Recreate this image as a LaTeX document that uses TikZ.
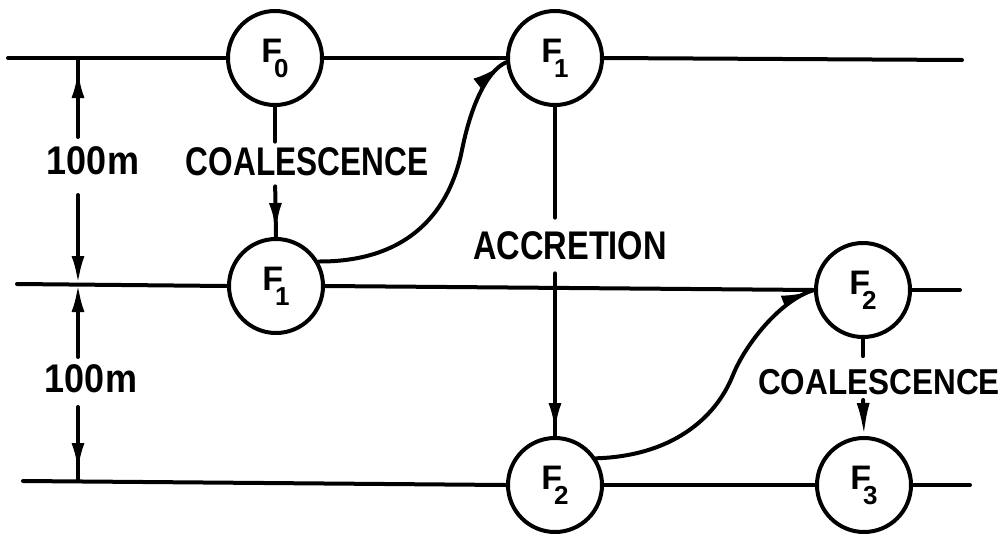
\documentclass[tikz,border=0pt]{standalone}
\usepackage{fontspec}
\usepackage{graphicx}
\setmainfont{Liberation Sans}
\usetikzlibrary{arrows.meta,decorations.markings}
\newcommand{\Fs}[1]{F\kern-8pt\raisebox{-15pt}{\fontsize{26}{26}\selectfont\bfseries #1}}
\newcommand{\lett}[2]{\scalebox{#1}[1]{#2}}
\begin{document}
\begin{tikzpicture}[x=1pt,y=-1pt,
  hline/.style={line width=4pt, line cap=round},
  fnode/.style={draw, circle, line width=4pt, minimum size=94pt, inner sep=0pt, font=\fontsize{34}{34}\selectfont\bfseries},
  lbl/.style={inner sep=0pt, font=\fontsize{40}{40}\selectfont\bfseries},
  atip/.style={postaction={decorate}, decoration={markings, mark=at position #1 with {\arrow{Latex[length=28pt,width=13pt]}}}},
  endtip/.style={-{Latex[length=28pt,width=13pt]}}
]
\useasboundingbox (0,0) rectangle (1006,533);

% circles
\node[fnode] (F0)  at (275,58)  {\Fs{0}};
\node[fnode] (F1a) at (555,58)  {\Fs{1}};
\node[fnode] (F1b) at (276,286) {\Fs{1}};
\node[fnode] (F2a) at (863,290) {\Fs{2}};
\node[fnode] (F2b) at (555,485) {\Fs{2}};
\node[fnode] (F3)  at (864,485) {\Fs{3}};

% labels
\node[lbl] (h1)  at (93,161)  {\lett{0.9}{100m}};
\node[lbl] (h2)  at (91,379)  {\lett{0.9}{100m}};
\node[lbl] (co1) at (307,162) {\lett{0.79}{COALESCENCE}};
\node[lbl] (acc) at (570,246) {\lett{0.815}{ACCRETION}};
\node[lbl, font=\fontsize{36}{36}\selectfont\bfseries] (co2) at (879,382) {\lett{0.875}{COALESCENCE}};

% line end points
\coordinate (a1) at (8,58);
\coordinate (a2) at (962,60);
\coordinate (b1) at (17,284);
\coordinate (b2) at (960,290);
\coordinate (c1) at (23,481);
\coordinate (c2) at (970,485);

% horizontal levels
\draw[hline] (a1) -- (F0.west);
\draw[hline] (F0.east) -- (F1a.west);
\draw[hline] (F1a.east) -- (a2);
\draw[hline] (b1) -- (F1b.west);
\draw[hline] (F1b.east) -- (F2a.west);
\draw[hline] (F2a.east) -- (b2);
\draw[hline] (c1) -- (F2b.west);
\draw[hline] (F2b.east) -- (F3.west);
\draw[hline] (F3.east) -- (c2);

% dimension arrows
\coordinate (t0) at (78,58);
\coordinate (m0) at (78,284);
\coordinate (u0) at (78,481);
\coordinate (d1) at (78,137);
\coordinate (d2) at (78,195);
\coordinate (d3) at (78,357);
\coordinate (d4) at (78,407);
\draw[hline, atip=-12pt] (d1) -- (t0);
\draw[hline, endtip] (d2) -- (m0);
\draw[hline, endtip] (d3) -- (m0);
\draw[hline, atip=-10pt] (d4) -- (u0);

% coalescence (left)
\draw[hline, shorten >=6pt] (F0.south) -- (F0.south |- co1.north);
\draw[hline, shorten <=10pt, atip=-6pt] (F0.south |- co1.south) -- (F1b.north);

% accretion
\draw[hline, shorten >=14pt] (F1a.south) -- (F1a.south |- acc.north);
\draw[hline, shorten <=13pt, atip=-5pt] (F1a.south |- acc.south) -- (F2b.north);

% coalescence (right)
\draw[hline, shorten >=13pt] (F2a.south) -- (F2a.south |- co2.north);
\draw[hline, shorten <=5pt, -{Latex[length=33pt,width=13pt]}] (F2a.south |- co2.south) -- (F3.north);

% curved transfers
\draw[hline, atip=-8pt] (F1b.30) .. controls (410,262) and (450,210) .. (462,150)
   .. controls (470,110) and (485,72) .. (F1a.185);
\draw[hline, atip=-5pt] (F2b.33) .. controls (670,456) and (715,420) .. (733,375)
   .. controls (745,345) and (780,300) .. (F2a.west);
\end{tikzpicture}
\end{document}
